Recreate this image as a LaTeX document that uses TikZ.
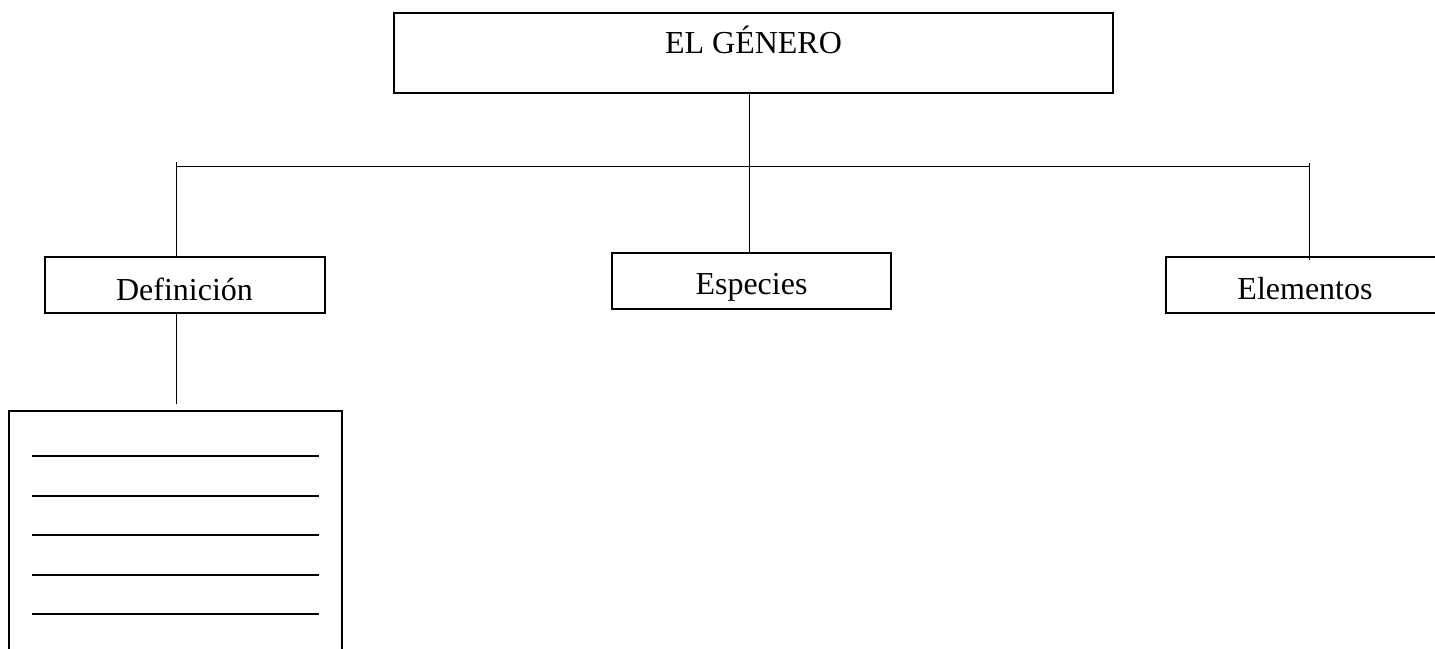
\documentclass[tikz,border=0pt]{standalone}
\usepackage{fontspec}
\setmainfont{Liberation Serif}

\begin{document}
\begin{tikzpicture}[x=1pt, y=-1pt,
    box/.style={draw, line width=2pt, inner sep=0pt, outer sep=0pt, font=\fontsize{32}{38}\selectfont},
    link/.style={line width=1pt}]
    \useasboundingbox (0,0) rectangle (1435,648);

    % Top box
    \node[box, minimum width=719pt, minimum height=80pt, text height=0pt, text depth=0pt]
        (genero) at (753.5,53) {EL GÉNERO};

    % Second level
    \node[box, minimum width=280pt, minimum height=56pt, text height=30pt, text depth=0pt]
        (definicion) at (184.5,285) {Definición};
    \node[box, minimum width=279pt, minimum height=56pt, text height=26pt, text depth=0pt]
        (especies) at (751.5,281) {Especies};
    \node[box, minimum width=290pt, minimum height=56pt, text height=28pt, text depth=0pt, anchor=west]
        (elementos) at (1166,285) {\hspace*{-12pt}Elementos};

    % Box to fill in
    \node[box, minimum width=333pt, minimum height=300pt, anchor=north]
        (hoja) at (175.5,411) {};
    \foreach \y in {456,496,535,575,614}
        \draw[line width=2pt] (32,\y) -- (319,\y);

    % Branches
    \coordinate (hl) at (176,166);
    \coordinate (hr) at (1309,166);
    \coordinate (tl) at (176,162);
    \coordinate (tr) at (1309,163);
    \coordinate (dl) at (176,404);

    \draw[link] (genero.south -| especies.north) ++(-2,0) coordinate (gs) -- (gs |- especies.north);
    \draw[link] (hl) -- (hr);
    \draw[link] (tl) -- (tl |- definicion.north);
    \draw[link] (tr) -- (1309,260);
    \draw[link] (tl |- definicion.south) -- (dl);

\end{tikzpicture}
\end{document}
